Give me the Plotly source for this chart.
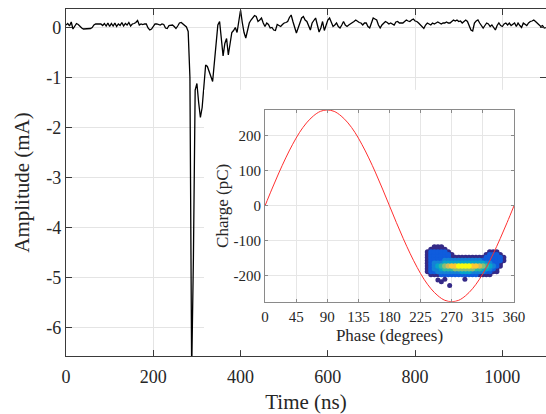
import plotly.graph_objects as go

# ---------------- data ----------------
# oscilloscope sample instants (ns), uniform 4 ns sampling clock
time_ns = list(range(0, 1101, 4))
amplitude_mA = [
    0.05, 0.08, 0.03, 0.11, -0.03, 0.02, 0.08, 0.06, 0.02, -0.01,      # 0-36
    -0.03, -0.03, -0.03, -0.03, -0.02, 0.00, 0.05, 0.07, 0.07, 0.06,   # 40-76
    0.07, 0.04, 0.08, 0.03, 0.09, 0.02, 0.08, 0.03, 0.09, 0.02,        # 80-116
    0.07, 0.04, 0.10, 0.03, 0.08, 0.05, 0.10, 0.03, 0.07, 0.08,        # 120-156
    0.10, 0.14, 0.05, 0.07, 0.06, 0.07, 0.07, -0.01, -0.05, -0.03,     # 160-196
    0.03, 0.07, 0.07, 0.06, 0.05, 0.07, 0.06, -0.01, -0.02, 0.04,      # 200-236
    0.05, 0.05, 0.02, -0.02, 0.03, 0.09, 0.10, 0.07, 0.05, 0.01,       # 240-276
    -0.08, -1.0, -6.9, -4.6, -1.25, -1.12, -1.5, -1.8, -1.6, -1.1,     # 280-316
    -0.75, -0.78, -0.9, -0.98, -1.08, -0.7, -0.3, 0.05, 0.12, -0.25,   # 320-356
    -0.57, -0.32, -0.22, -0.55, -0.35, -0.10, -0.06, 0.00, -0.10, 0.15,  # 360-396
    0.35, 0.10, -0.10, -0.21, -0.05, 0.09, 0.15, 0.19, 0.24, 0.22,     # 400-436
    0.12, 0.15, 0.19, 0.09, 0.02, 0.09, 0.06, -0.01, 0.00, -0.05,      # 440-476
    -0.06, 0.06, 0.04, 0.02, 0.06, 0.09, 0.10, 0.12, 0.20, 0.25,       # 480-516
    0.12, -0.01, -0.11, -0.01, 0.09, 0.19, 0.22, 0.15, 0.12, 0.02,     # 520-556
    -0.05, 0.09, 0.15, 0.19, 0.05, -0.09, -0.01, 0.12, -0.06, 0.05,    # 560-596
    0.15, 0.19, 0.09, 0.02, 0.05, 0.09, 0.02, -0.01, 0.05, 0.12,       # 600-636
    0.05, 0.02, 0.05, 0.07, 0.09, 0.12, 0.15, 0.12, 0.10, 0.09,        # 640-676
    0.05, 0.09, 0.09, 0.02, -0.01, 0.09, 0.19, 0.17, 0.15, 0.05,       # 680-716
    -0.01, 0.05, 0.09, 0.12, 0.10, 0.07, 0.09, 0.07, 0.05, 0.11,       # 720-756
    0.12, 0.09, 0.09, 0.09, 0.12, 0.15, 0.13, 0.12, 0.15, 0.17,        # 760-796
    0.13, 0.12, 0.09, 0.05, 0.00, -0.02, 0.05, 0.09, 0.07, 0.05,       # 800-836
    0.09, 0.07, 0.09, 0.11, 0.09, 0.07, 0.09, 0.09, 0.11, 0.09,        # 840-876
    0.09, 0.13, 0.15, 0.13, 0.15, 0.12, 0.13, 0.09, 0.12, 0.15,        # 880-916
    0.12, 0.04, -0.05, -0.07, 0.09, 0.13, 0.15, 0.09, 0.04, -0.01,     # 920-956
    0.04, 0.09, 0.07, 0.02, 0.05, -0.01, -0.05, 0.04, 0.09, 0.04,      # 960-996
    0.02, 0.07, 0.09, 0.05, 0.09, 0.04, 0.07, 0.09, 0.02, 0.09,        # 1000-1036
    0.04, 0.00, 0.09, 0.07, 0.04, 0.09, 0.12, 0.13, 0.15, 0.12,        # 1040-1076
    0.09, 0.05, 0.02, 0.04, -0.01, 0.00,                               # 1080-1100
]

time_ticks = [0, 200, 400, 600, 800, 1000]
time_ticktext = ["0", "200", "400", "600", "800", "1000"]
amp_ticks = [-6, -5, -4, -3, -2, -1, 0]
amp_ticktext = ["-6", "-5", "-4", "-3", "-2", "-1", "0"]

# inset: reference sine (charge vs phase)
phase_deg = [0, 10, 20, 30, 40, 50, 60, 70, 80, 90, 100, 110, 120, 130, 140, 150, 160, 170, 180,
             190, 200, 210, 220, 230, 240, 250, 260, 270, 280, 290, 300, 310, 320, 330, 340, 350, 360]
sine_charge_pC = [0, 48, 94, 137, 176, 210, 237, 257, 270, 274, 270, 257, 237, 210, 176, 137, 94, 48, 0,
                  -48, -94, -137, -176, -210, -237, -257, -270, -274, -270, -257, -237, -210, -176, -137, -94, -48, 0]

# inset: measured discharge cloud, density level per (phase, charge) cell ('.' = empty)
cluster_phase = [235, 240, 245, 250, 255, 260, 265, 270, 275, 280, 285, 290,
                 295, 300, 305, 310, 315, 320, 325, 330, 335, 340, 345]
cluster_charge = [-118, -125, -132, -140, -148, -156, -164, -172, -180, -188, -196]
cluster_density = [
    "..111..................",
    ".11111.................",
    "1222221...........111..",
    "12222221.........12221.",
    "12222221111111111222221",
    "12222333333333332222221",
    "1233344444444444433221.",
    "1234567889999887654321.",
    "123345556666665544321..",
    "122333333344433332211..",
    ".111222222222221111....",
]
outlier_phase = [250, 255, 260, 267, 289]
outlier_charge = [-212, -217, -210, -228, -210]

phase_ticks = [0, 45, 90, 135, 180, 225, 270, 315, 360]
phase_ticktext = ["0", "45", "90", "135", "180", "225", "270", "315", "360"]
charge_ticks = [-200, -100, 0, 100, 200]
charge_ticktext = ["-200", "-100", "0", "100", "200"]

# ---------------- styling ----------------
FONT = "Liberation Serif"
TXT = "#262626"
parula = [[0.0, "#352a87"], [0.125, "#0f5cdd"], [0.25, "#1481d6"], [0.375, "#06a4ca"],
          [0.5, "#2eb7a4"], [0.625, "#87bf77"], [0.75, "#d1bb59"], [0.875, "#fec832"], [1.0, "#f9fb0e"]]

fig = go.Figure()

fig.add_trace(go.Scatter(x=time_ns, y=amplitude_mA, mode="lines",
                         line=dict(color="black", width=1.3),
                         xaxis="x", yaxis="y", showlegend=False, hoverinfo="skip"))

# invisible subplot whose background masks the main grid behind the inset
fig.add_trace(go.Scatter(x=[0], y=[0], mode="markers", marker=dict(opacity=0),
                         xaxis="x2", yaxis="y2", showlegend=False, hoverinfo="skip"))

pts = []
for ch, row in zip(cluster_charge, cluster_density):
    for ph, lev in zip(cluster_phase, row):
        if lev != ".":
            pts.append((int(lev), ph, ch))
pts.sort()
fig.add_trace(go.Scatter(x=[p[1] for p in pts], y=[p[2] for p in pts], mode="markers",
                         marker=dict(size=5.5, color=[p[0] for p in pts], colorscale=parula,
                                     cmin=1, cmax=9, line=dict(width=0)),
                         xaxis="x3", yaxis="y3", showlegend=False, hoverinfo="skip"))
fig.add_trace(go.Scatter(x=outlier_phase, y=outlier_charge, mode="markers",
                         marker=dict(size=5, color="#352a87", line=dict(width=0)),
                         xaxis="x3", yaxis="y3", showlegend=False, hoverinfo="skip"))
fig.add_trace(go.Scatter(x=phase_deg, y=sine_charge_pC, mode="lines",
                         line=dict(color="#ff3030", width=1, shape="spline"),
                         xaxis="x3", yaxis="y3", showlegend=False, hoverinfo="skip"))

main_ax = dict(showline=True, linecolor="#3a3a3a", linewidth=1.2, mirror="ticks",
               ticks="inside", ticklen=6, tickcolor="#3a3a3a", tickwidth=1,
               showgrid=True, gridcolor="#e4e4e4", gridwidth=1, zeroline=False,
               tickfont=dict(family=FONT, size=18, color=TXT))
inset_ax = dict(showline=True, linecolor="#8a8a8a", linewidth=1, mirror="ticks",
                ticks="inside", ticklen=3, tickcolor="#8a8a8a", tickwidth=1,
                showgrid=True, gridcolor="#e6e6e6", gridwidth=1, zeroline=False,
                tickfont=dict(family=FONT, size=15, color=TXT))

fig.update_layout(
    width=546, height=414,
    margin=dict(l=66, r=0, t=9, b=58, autoexpand=False),
    paper_bgcolor="white", plot_bgcolor="white",
    showlegend=False,
    xaxis=dict(main_ax, domain=[0, 1], anchor="y", range=[0, 1100],
               tickvals=time_ticks, ticktext=time_ticktext, ticklabelstandoff=4,
               title=dict(text="Time (ns)", font=dict(family=FONT, size=21, color=TXT), standoff=8)),
    yaxis=dict(main_ax, domain=[0, 1], anchor="x", range=[-6.57, 0.37],
               tickvals=amp_ticks, ticktext=amp_ticktext,
               title=dict(text="Amplitude (mA)", font=dict(family=FONT, size=21, color=TXT), standoff=10)),
    xaxis2=dict(domain=[0.2875, 1.0], anchor="y2", range=[0, 1], visible=False),
    yaxis2=dict(domain=[0.017, 0.767], anchor="x2", range=[0, 1], visible=False),
    xaxis3=dict(inset_ax, domain=[0.4146, 0.9333], anchor="y3", range=[0, 360],
                tickvals=phase_ticks, ticktext=phase_ticktext, ticklabelstandoff=1,
                title=dict(text="Phase (degrees)", font=dict(family=FONT, size=17, color=TXT), standoff=5)),
    yaxis3=dict(inset_ax, domain=[0.1565, 0.709], anchor="x3", range=[-274, 274],
                tickvals=charge_ticks, ticktext=charge_ticktext,
                title=dict(text="Charge (pC)", font=dict(family=FONT, size=17, color=TXT), standoff=0)),
)

fig.write_html("out.html")
